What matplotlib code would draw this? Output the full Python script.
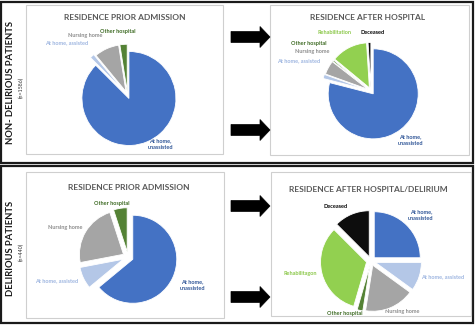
import matplotlib
matplotlib.use("Agg")
import matplotlib.pyplot as plt
from matplotlib.patches import Rectangle, Polygon

plt.rcParams['font.family'] = ['Lato', 'DejaVu Sans']

# ---- data (shares in %) ----
cats_prior = ['At home,\nunassisted', 'At home, assisted', 'Nursing home', 'Other hospital']
cats_after = ['At home,\nunassisted', 'At home, assisted', 'Nursing home', 'Other hospital',
              'Rehabilitation', 'Deceased']
cats_after_del = ['At home,\nunassisted', 'At home, assisted', 'Nursing home', 'Other hospital',
                  'Rehabilitagon', 'Deceased']

nondel_prior = [87.5, 1.5, 8.5, 2.5]
nondel_after = [79, 1.5, 5, 0.5, 13, 1]
del_prior = [64, 8, 23, 5]
del_after = [25, 10, 17.5, 2, 33, 12.5]

titles = ['RESIDENCE PRIOR ADMISSION', 'RESIDENCE AFTER HOSPITAL',
          'RESIDENCE PRIOR ADMISSION', 'RESIDENCE AFTER HOSPITAL/DELIRIUM']
groups = ['NON- DELIRIOUS PATIENTS', 'DELIRIOUS PATIENTS']
group_n = ['(n=1586)', '(n=440)']

# colours
slice_cols = ['#4472C4', '#B4C7E7', '#A5A5A5', '#548235', '#92D050', '#0D0D0D']
label_cols = ['#2F5597', '#9DB5E0', '#8C8C8C', '#3E6B24', '#8CC84B', '#000000']

W, H = 476, 328
fig = plt.figure(figsize=(W / 100, H / 100), dpi=100)

# overlay axes in pixel coordinates for frames, arrows and text
bg = fig.add_axes([0, 0, 1, 1])
bg.set_xlim(0, W)
bg.set_ylim(H, 0)
bg.axis('off')

# outer panel frames
for y0, h in [(2, 161), (166, 157)]:
    bg.add_patch(Rectangle((0.8, y0), 472, h, fill=False, ec='#1a1a1a', lw=1.6))

# chart boxes
for x0, y0, w, h in [(26, 5, 197, 149), (270, 5, 199, 150), (26, 172, 198, 146), (271, 172, 200, 144)]:
    bg.add_patch(Rectangle((x0, y0), w, h, fill=False, ec='#cfcfcf', lw=0.8))

# block arrows
for yc in [37, 130, 206, 297]:
    x0, x1, x2, bh, hh = 231, 260, 270, 5.5, 10.5
    pts = [(x0, yc - bh), (x1, yc - bh), (x1, yc - hh), (x2, yc),
           (x1, yc + hh), (x1, yc + bh), (x0, yc + bh)]
    bg.add_patch(Polygon(pts, closed=True, fc='black', ec='black', lw=0.5))

# side labels
bg.text(11, 82, groups[0], rotation=90, ha='center', va='center', fontsize=6.8,
        fontweight='bold', color='#1a1a1a')
bg.text(21.5, 87, group_n[0], rotation=90, ha='center', va='center', fontsize=3.8, color='#333333')
bg.text(11, 248, groups[1], rotation=90, ha='center', va='center', fontsize=6.8,
        fontweight='bold', color='#1a1a1a')
bg.text(21.5, 252, group_n[1], rotation=90, ha='center', va='center', fontsize=3.8, color='#333333')

# titles
for (tx, ty), t in zip([(125, 17), (368, 17), (129, 187), (368, 189)], titles):
    bg.text(tx, ty, t, ha='center', va='center', fontsize=6, fontweight='bold', color='#595959')


def draw_pie(cx, cy, r, vals, explode):
    L = 1.5
    s = 2 * L * r
    ax = fig.add_axes([(cx - s / 2) / W, 1 - (cy + s / 2) / H, s / W, s / H])
    ax.pie(vals, colors=slice_cols[:len(vals)], startangle=90, counterclock=False,
           explode=explode, wedgeprops=dict(edgecolor='white', linewidth=0.6))
    ax.set_xlim(-L, L)
    ax.set_ylim(-L, L)
    ax.set_aspect('equal')
    ax.axis('off')


def put_labels(cats, spots):
    for i, (c, (lx, ly)) in enumerate(zip(cats, spots)):
        bg.text(lx, ly, c, ha='center', va='center', fontsize=4, fontweight='bold',
                color=label_cols[i], linespacing=1.4)


draw_pie(127.5, 95, 47, nondel_prior, [0.08, 0.12, 0.08, 0.08])
put_labels(cats_prior, [(160, 144), (67, 43), (85, 35), (118, 32)])

draw_pie(371, 91, 45, nondel_after, [0.08, 0.1, 0.08, 0.08, 0.08, 0.08])
put_labels(cats_after, [(410, 140), (299, 61), (312, 52), (309, 44), (334, 33), (373, 32)])

draw_pie(128, 257, 44, del_prior, [0.12, 0.12, 0.12, 0.12])
put_labels(cats_prior, [(192, 285), (57, 281), (65, 227), (112, 203)])

draw_pie(371, 261, 46, del_after, [0.1, 0.1, 0.1, 0.1, 0.1, 0.1])
put_labels(cats_after_del, [(421, 215), (443, 277), (402, 311), (345, 314), (300, 273), (336, 207)])

fig.savefig('out.png', dpi=100)
